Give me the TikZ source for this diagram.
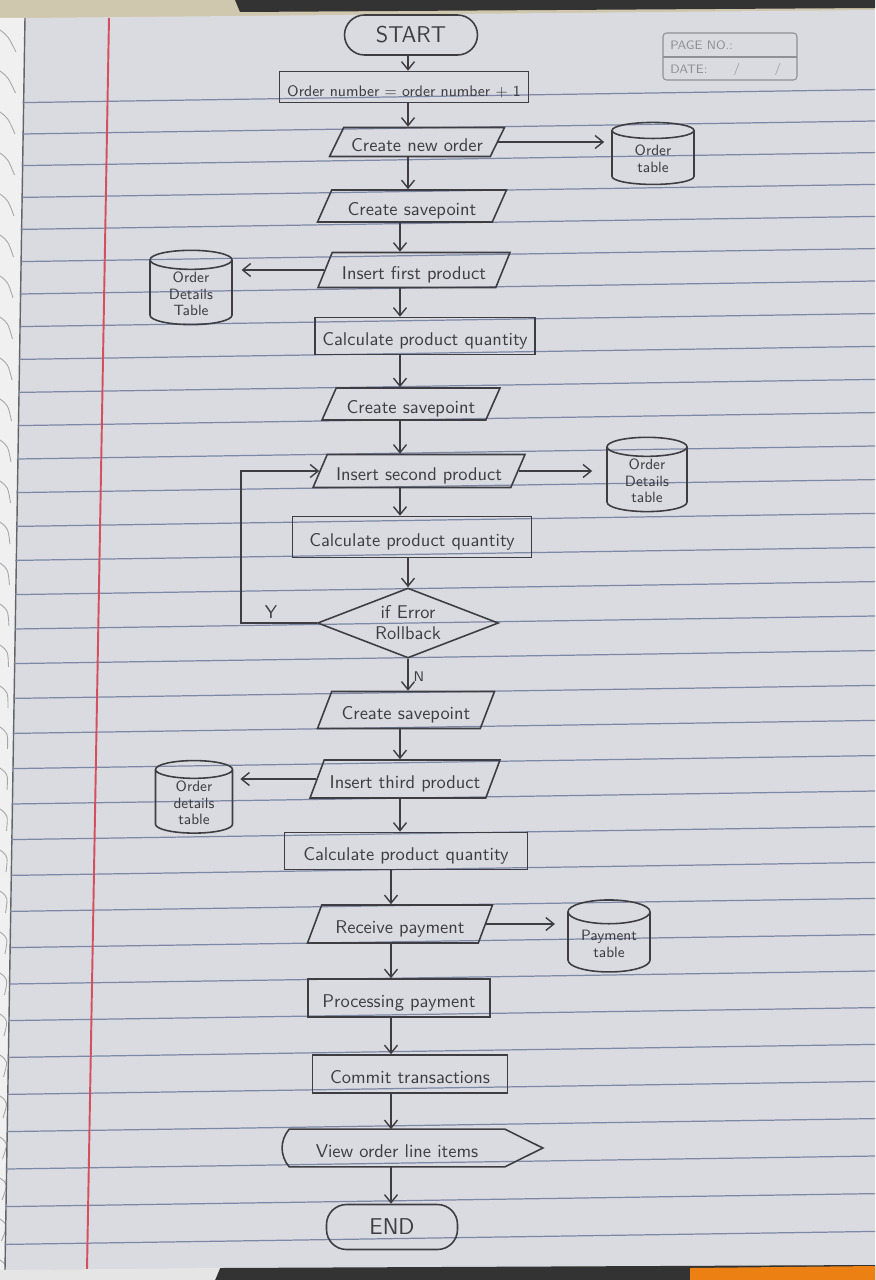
\documentclass[tikz,border=0pt]{standalone}
\usetikzlibrary{shapes.geometric,arrows.meta}
\definecolor{paper}{HTML}{DADBE1}
\definecolor{ruling}{HTML}{7E88A4}
\definecolor{margin}{HTML}{D4505E}
\definecolor{pencil}{HTML}{3E3E42}
\definecolor{printed}{HTML}{8E9096}
\definecolor{cloth}{HTML}{CFC8AE}
\newcommand{\hand}{\sffamily\fontsize{10.5}{12}\selectfont}
\tikzset{
  ink/.style={draw=pencil, line width=0.9pt, text=pencil},
  term/.style={ink, rectangle, rounded corners=0.4cm, font=\sffamily\fontsize{13}{15}\selectfont},
  proc/.style={ink, rectangle, inner sep=2pt, font=\hand, text height=2.6ex, text depth=0pt},
  io/.style={ink, trapezium, trapezium left angle=62, trapezium right angle=118,
    trapezium stretches body, inner sep=2pt, font=\hand, text height=2.6ex, text depth=0pt},
  store/.style={ink, cylinder, shape border rotate=90, aspect=0.4, align=center,
    inner sep=1pt, font=\sffamily\fontsize{8.5}{9.5}\selectfont},
  decide/.style={ink, diamond, aspect=2.6, inner sep=0pt, align=center, font=\hand},
  flow/.style={pencil, line width=0.8pt, ->},
  pagetext/.style={text=printed, font=\sffamily\scriptsize, inner sep=0pt},
}
\begin{document}
\begin{tikzpicture}[x=0.02cm, y=-0.02cm, >={Straight Barb[length=1.6mm,width=2.6mm]}]
  \useasboundingbox (0,0) rectangle (875,1280);
  \fill[cloth] (0,0) rectangle (875,1280);
  \fill[gray!12] (0,18) -- (25,18) -- (5,1280) -- (0,1280) -- cycle;
  \foreach \k in {0,...,30}
    \draw[gray!70, line width=0.5pt] (0,30+41*\k) .. controls (8,36+41*\k) .. (16-0.5*\k,52+41*\k);
  \fill[paper] (25,18) -- (875,10) -- (875,1265) -- (5,1270) -- cycle;
  \draw[pencil!80, line width=0.8pt] (25,18) -- (5,1270);
  \foreach \k in {-1,...,33}{
    \pgfmathsetmacro{\yy}{128+31.5*\k+0.1*\k*\k}
    \draw[ruling, line width=0.7pt] (24-0.0155*\yy,\yy+6) -- (875,\yy-7);
  }
  \draw[margin, line width=1.1pt] (109,18) -- (87,1270);
  \fill[black!80] (235,0) -- (875,0) -- (875,8) -- (240,12) -- cycle;
  \fill[black!80] (220,1268) -- (875,1265) -- (875,1280) -- (215,1280) -- cycle;
  \fill[gray!20] (0,1270) -- (220,1268) -- (215,1280) -- (0,1280) -- cycle;
  \fill[orange!70!brown] (690,1268) -- (875,1266) -- (875,1280) -- (690,1280) -- cycle;

  \draw[printed, rounded corners=2pt, line width=0.6pt] (663,33) rectangle (797,80);
  \draw[printed, line width=0.6pt] (663,57) -- (797,57);
  \node[pagetext, anchor=west] (pageno) at (670,45) {PAGE NO.:};
  \node[pagetext, anchor=west] (date) at (670,69) {DATE:};
  \node[pagetext] (slasha) at (737,69) {/};
  \node[pagetext] (slashb) at (778,69) {/};

  \node[term, minimum width=2.66cm, minimum height=0.8cm] (start) at (411,35) {START};
  \node[proc, minimum width=4.98cm, minimum height=0.62cm, font=\sffamily\fontsize{8.7}{10}\selectfont] (ordnum) at (404,87) {Order number = order number + 1};
  \node[io, minimum width=3.5cm, minimum height=0.58cm] (neworder) at (417,142) {Create new order};
  \node[store, minimum width=1.64cm, minimum height=1.24cm] (ordtab) at (653,159) {Order\\table};
  \node[io, minimum width=3.78cm, minimum height=0.64cm] (save1) at (412,206) {Create savepoint};
  \node[io, minimum width=3.84cm, minimum height=0.7cm] (ins1) at (414,270) {Insert first product};
  \node[store, minimum width=1.64cm, minimum height=1.3cm] (odt1) at (191,294) {Order\\Details\\Table};
  \node[proc, minimum width=4.4cm, minimum height=0.74cm] (calc1) at (425,336) {Calculate product quantity};
  \node[io, minimum width=3.56cm, minimum height=0.64cm] (save2) at (411,404) {Create savepoint};
  \node[io, minimum width=4.24cm, minimum height=0.66cm] (ins2) at (419,471) {Insert second product};
  \node[store, minimum width=1.6cm, minimum height=1.24cm] (odt2) at (647,481) {Order\\Details\\table};
  \node[proc, minimum width=4.78cm, minimum height=0.82cm] (calc2) at (412,537) {Calculate product quantity};
  \node[decide, minimum width=3.62cm, minimum height=1.4cm] (err) at (408,623) {if Error\\Rollback};
  \node[io, minimum width=3.54cm, minimum height=0.74cm] (save3) at (406,710) {Create savepoint};
  \node[io, minimum width=3.8cm, minimum height=0.76cm] (ins3) at (405,779) {Insert third product};
  \node[store, minimum width=1.54cm, minimum height=1.4cm] (odt3) at (194,803) {Order\\details\\table};
  \node[proc, minimum width=4.86cm, minimum height=0.74cm] (calc3) at (406,851) {Calculate product quantity};
  \node[io, minimum width=3.7cm, minimum height=0.76cm] (recv) at (400,924) {Receive payment};
  \node[store, minimum width=1.64cm, minimum height=1.44cm] (paytab) at (609,944) {Payment\\table};
  \node[proc, minimum width=3.64cm, minimum height=0.76cm] (procpay) at (399,998) {Processing payment};
  \node[proc, minimum width=3.9cm, minimum height=0.76cm] (commit) at (410,1074) {Commit transactions};
  \node[minimum width=4.3cm, minimum height=0.74cm, inner sep=2pt, text=pencil, font=\hand,
    text height=2.6ex, text depth=0pt] (view) at (397,1148) {View order line items};
  \draw[ink] (view.south west) to[bend left=40] (view.north west) -- (view.north east)
    -- ([xshift=0.76cm]view.east) -- (view.south east) -- cycle;
  \node[term, minimum width=2.62cm, minimum height=0.9cm] (end) at (392,1227) {END};

  \coordinate (axtop) at (408,0);
  \coordinate (axmid) at (400,0);
  \coordinate (axlow) at (391,0);
  \coordinate (loopx) at (241,0);

  \draw[flow] (start.south -| axtop) -- (ordnum.north -| axtop);
  \draw[flow] (ordnum.south -| axtop) -- (neworder.north -| axtop);
  \draw[flow] (neworder.south -| axtop) -- (save1.north -| axtop);
  \draw[flow] (save1.south -| axmid) -- (ins1.north -| axmid);
  \draw[flow] (ins1.south -| axmid) -- (calc1.north -| axmid);
  \draw[flow] (calc1.south -| axmid) -- (save2.north -| axmid);
  \draw[flow] (save2.south -| axmid) -- (ins2.north -| axmid);
  \draw[flow] (ins2.south -| axmid) -- (calc2.north -| axmid);
  \draw[flow] (calc2.south -| err.north) -- (err.north);
  \draw[flow] (err.south) -- (err.south |- save3.north);
  \draw[flow] (save3.south -| axmid) -- (ins3.north -| axmid);
  \draw[flow] (ins3.south -| axmid) -- (calc3.north -| axmid);
  \draw[flow] (calc3.south -| axlow) -- (recv.north -| axlow);
  \draw[flow] (recv.south -| axlow) -- (procpay.north -| axlow);
  \draw[flow] (procpay.south -| axlow) -- (commit.north -| axlow);
  \draw[flow] (commit.south -| axlow) -- (view.north -| axlow);
  \draw[flow] (view.south -| axlow) -- (end.north -| axlow);

  \draw[flow, shorten >=4pt] (neworder.east) -- (neworder.east -| ordtab.west);
  \draw[flow, shorten >=5pt] (ins1.west) -- (ins1.west -| odt1.east);
  \draw[flow, shorten >=8pt] (ins2.east) -- (ins2.east -| odt2.west);
  \draw[flow, shorten >=4pt] (ins3.west) -- (ins3.west -| odt3.east);
  \draw[flow, shorten >=7pt] (recv.east) -- (recv.east -| paytab.west);
  \draw[flow] (err.west) -- (err.west -| loopx) -- (loopx |- ins2.west) -- (ins2.west);
  \node[text=pencil, font=\hand] (ylab) at (271,612) {Y};
  \node[text=pencil, font=\sffamily\footnotesize] (nlab) at (419,677) {N};
\end{tikzpicture}
\end{document}
